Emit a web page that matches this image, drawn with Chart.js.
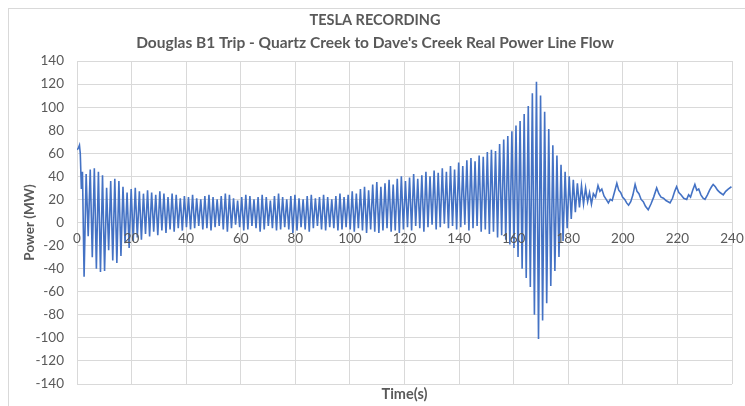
<!DOCTYPE html>
<html>
<head>
<meta charset="utf-8">
<title>Tesla Recording</title>
<script src="https://cdn.jsdelivr.net/npm/chart.js@4.4.1/dist/chart.umd.min.js"></script>
<style>
  html, body { margin: 0; padding: 0; background: #fff; overflow: hidden; }
  #wrap { position: relative; width: 745px; height: 406px; overflow: hidden; }
  #frame { position: absolute; left: 8px; top: 8px; width: 800px; height: 500px; border: 1px solid #d9d9d9; }
  #powerChart { position: absolute; left: 0; top: 0; }
</style>
</head>
<body>
<div id="wrap">
  <div id="frame"></div>
  <canvas id="powerChart" width="745" height="406"></canvas>
</div>
<script>
'use strict';

// first couple of seconds after the trip
const onsetTime = [0, 0.4, 0.9, 1.2, 1.6, 2.0];
const onsetPower = [63, 64, 67, 60, 29, 44];

// swing: trough, peak, trough, peak ... sampled every 0.75 s from 2.6 s
const swingStart = 2.6;
const swingStep = 0.75;
const swingPower = [
  -47, 42, -12, 46, -30, 47, -40, 44, -43, 41, -42, 30, -24, 36, -33, 38, -35, 36, -29, 31,
  -18, 26, -22, 29, -16, 30, -13, 27, -15, 25, -10, 28, -12, 26, -8, 24, -11, 27, -7, 25,
  -9, 22, -6, 25, -8, 24, -5, 21, -7, 23, -4, 22, -6, 24, -5, 21, -3, 20, -6, 23,
  -5, 24, -7, 22, -4, 20, -3, 23, -6, 25, -8, 24, -5, 21, -2, 19, -4, 22, -7, 24,
  -6, 23, -3, 20, -5, 22, -8, 24, -6, 22, -3, 19, -5, 23, -7, 25, -6, 22, -4, 20,
  -6, 23, -9, 24, -7, 21, -4, 20, -6, 23, -8, 24, -5, 21, -3, 22, -6, 24, -7, 22,
  -4, 20, -5, 23, -7, 25, -6, 22, -4, 24, -6, 27, -8, 25, -5, 29, -7, 31, -9, 28,
  -6, 33, -8, 35, -9, 31, -7, 34, -5, 37, -8, 33, -7, 38, -9, 40, -6, 36, -4, 39,
  -7, 42, -3, 38, -5, 41, -8, 44, -4, 40, -2, 45, -6, 43, -4, 47, -1, 44, -5, 49,
  -3, 46, -6, 52, -4, 49, -2, 54, -7, 56, -5, 53, -3, 58, -8, 57, -6, 61, -10, 63,
  -8, 62, -13, 68, -11, 72, -15, 75, -19, 79, -22, 84, -30, 88, -40, 94, -48, 101, -56, 112,
  -80, 122, -101, 110, -85, 96, -70, 81, -55, 67, -42, 58, -30, 50, -16, 44, -5, 40, 3, 37,
  9, 34, 13, 32, 16, 30
];

// slow oscillation once the swing has died out
const tailTime = [
  187.1, 187.8, 188.5, 189.2, 190.0, 190.9, 191.6, 192.3, 193.1, 193.9,
  194.7, 195.4, 196.1, 196.9, 197.8, 198.5, 199.2, 199.9, 200.7, 201.4,
  202.1, 202.9, 203.7, 204.5, 205.2, 205.9, 206.7, 207.5, 208.3, 209.3,
  210.3, 211.3, 212.4, 213.2, 214.0, 214.9, 215.8, 216.6, 217.3, 218.2,
  219.0, 219.7, 220.5, 221.3, 222.3, 223.4, 224.1, 224.8, 225.6, 226.4,
  227.1, 227.8, 228.6, 229.4, 230.1, 231.0, 231.8, 232.5, 233.1, 233.9,
  234.7, 235.6, 236.8, 237.7, 238.6, 239.8
];
const tailPower = [
  18, 26, 16, 25, 22, 32, 27, 29, 23, 20,
  17, 20, 19, 26, 34, 28, 26, 22, 20, 17,
  15, 18, 24, 33, 27, 25, 20, 18, 14, 11,
  16, 22, 30, 25, 22, 21, 19, 18, 17, 21,
  27, 31, 26, 24, 21, 20, 24, 22, 28, 33,
  28, 29, 24, 21, 20, 24, 28, 31, 33, 31,
  28, 26, 24, 27, 29, 31
];

const xTickValues = [0, 20, 40, 60, 80, 100, 120, 140, 160, 180, 200, 220, 240];
const yTickValues = [-140, -120, -100, -80, -60, -40, -20, 0, 20, 40, 60, 80, 100, 120, 140];

const textColor = '#595959';
const gridColor = '#d9d9d9';
const fontFamily = 'Lato, "Open Sans", sans-serif';

function buildPoints() {
  const pts = [];
  onsetTime.forEach((t, i) => pts.push({ x: t, y: onsetPower[i] }));
  swingPower.forEach((v, i) => pts.push({ x: swingStart + i * swingStep, y: v }));
  tailTime.forEach((t, i) => pts.push({ x: t, y: tailPower[i] }));
  return pts;
}

const ctx = document.getElementById('powerChart').getContext('2d');
new Chart(ctx, {
  type: 'line',
  data: {
    datasets: [{
      label: 'Power',
      data: buildPoints(),
      borderColor: '#4472c4',
      borderWidth: 1.6,
      pointRadius: 0,
      tension: 0,
      fill: false
    }]
  },
  options: {
    responsive: false,
    animation: false,
    events: [],
    layout: { padding: { left: 18, right: 13, top: 0, bottom: 0 } },
    plugins: {
      legend: { display: false },
      tooltip: { enabled: false },
      title: {
        display: true,
        text: 'TESLA RECORDING',
        color: textColor,
        font: { family: fontFamily, size: 14.5, weight: 'bold' },
        padding: { top: 12, bottom: 4 }
      },
      subtitle: {
        display: true,
        text: "Douglas B1 Trip - Quartz Creek to Dave's Creek Real Power Line Flow",
        color: textColor,
        font: { family: fontFamily, size: 15.5, weight: 'bold' },
        padding: { top: 0, bottom: 9 }
      }
    },
    scales: {
      x: {
        type: 'linear',
        position: { y: 0 },
        min: 0,
        max: 240,
        afterBuildTicks: scale => { scale.ticks = xTickValues.map(v => ({ value: v })); },
        afterFit: scale => { scale.paddingLeft = 0; scale.paddingRight = 0; },
        grid: { color: gridColor, lineWidth: 1, drawTicks: false },
        border: { color: gridColor },
        ticks: {
          color: textColor,
          font: { family: fontFamily, size: 13.5 },
          padding: 8,
          maxRotation: 0,
          z: 1
        }
      },
      x2: {
        type: 'linear',
        position: 'bottom',
        afterFit: scale => { scale.height = 22; },
        grid: { display: false },
        border: { display: false },
        ticks: { display: false },
        title: {
          display: true,
          text: 'Time(s)',
          color: textColor,
          font: { family: fontFamily, size: 14.5, weight: 'bold' },
          padding: { top: 2, bottom: 3 }
        }
      },
      y: {
        type: 'linear',
        min: -140,
        max: 140,
        afterBuildTicks: scale => { scale.ticks = yTickValues.map(v => ({ value: v })); },
        afterFit: scale => { scale.width = 59; },
        grid: { color: gridColor, lineWidth: 1, drawTicks: false },
        border: { color: gridColor },
        ticks: {
          color: textColor,
          font: { family: fontFamily, size: 13.5 },
          padding: 13
        },
        title: {
          display: true,
          text: 'Power (MW)',
          color: textColor,
          font: { family: fontFamily, size: 13.5, weight: 'bold' },
          padding: { top: 4, bottom: 4 }
        }
      }
    }
  }
});
</script>
</body>
</html>
